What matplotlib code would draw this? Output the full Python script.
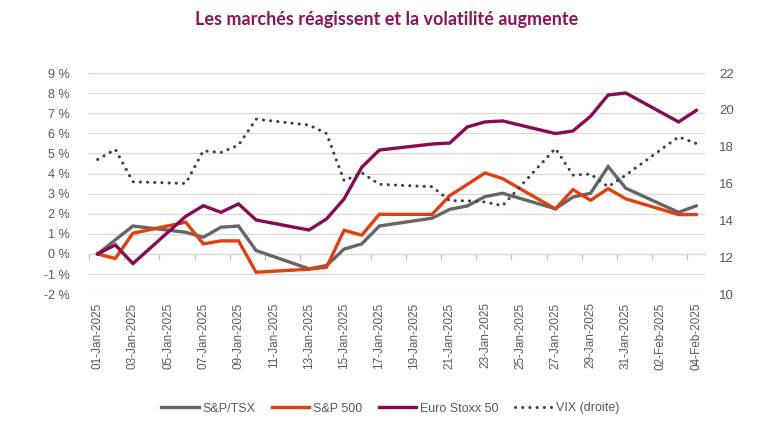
import numpy as np
import pandas as pd
import matplotlib
matplotlib.use("Agg")
import matplotlib.pyplot as plt
from matplotlib.ticker import FixedLocator, FuncFormatter
from matplotlib.lines import Line2D

# jours de bourse (les jours fériés reprennent la valeur précédente)
dates = pd.to_datetime([
    "2025-01-01", "2025-01-02", "2025-01-03", "2025-01-06", "2025-01-07",
    "2025-01-08", "2025-01-09", "2025-01-10", "2025-01-13", "2025-01-14",
    "2025-01-15", "2025-01-16", "2025-01-17", "2025-01-20", "2025-01-21",
    "2025-01-22", "2025-01-23", "2025-01-24", "2025-01-27", "2025-01-28",
    "2025-01-29", "2025-01-30", "2025-01-31", "2025-02-03", "2025-02-04",
])
tsx = [0.0, 0.70, 1.39, 1.08, 0.83, 1.33, 1.39, 0.17, -0.74, -0.58,
       0.24, 0.50, 1.39, 1.78, 2.22, 2.39, 2.85, 3.02, 2.25, 2.83,
       3.02, 4.35, 3.27, 2.07, 2.39]
spx = [0.0, -0.23, 1.03, 1.58, 0.50, 0.65, 0.65, -0.91, -0.76, -0.66,
       1.18, 0.93, 1.97, 1.97, 2.90, 3.46, 4.03, 3.75, 2.24, 3.20,
       2.67, 3.25, 2.74, 1.96, 1.96]
stoxx = [0.0, 0.45, -0.48, 1.87, 2.40, 2.07, 2.49, 1.69, 1.19, 1.74,
         2.74, 4.31, 5.17, 5.47, 5.52, 6.32, 6.57, 6.62, 5.99, 6.12,
         6.85, 7.91, 8.01, 6.57, 7.14]
vix = [17.31, 17.86, 16.10, 16.01, 17.78, 17.69, 18.09, 19.50, 19.18, 18.72,
       16.15, 16.59, 15.96, 15.83, 15.07, 15.07, 15.00, 14.80, 17.91, 16.46,
       16.52, 15.83, 16.46, 18.54, 18.18]

start = pd.Timestamp("2025-01-01")
end = pd.Timestamp("2025-02-04")
day = np.array([(d - start).days for d in dates])
n_days = (end - start).days
label_days = np.arange(0, n_days + 1, 2)
tick_labels = [(start + pd.Timedelta(days=int(k))).strftime("%d-%b-%Y") for k in label_days]

c_tsx = "#666666"
c_spx = "#E0400E"
c_stoxx = "#870A56"
c_vix = "#3F3F3F"
c_text = "#595959"
c_grid = "#D9D9D9"
dots = (0, (0.05, 2.3))

plt.rcParams["font.family"] = ["Liberation Sans", "DejaVu Sans"]

fig = plt.figure(figsize=(7.73, 4.30), dpi=100)
ax = fig.add_axes([0.115, 0.316, 0.797, 0.514])
ax2 = ax.twinx()

ax.set_ylim(-2, 9)
ax.set_yticks(np.arange(-2, 10, 1))
ax.yaxis.set_major_formatter(FuncFormatter(lambda v, p: f"{v:.0f} %"))
ax.grid(axis="y", color=c_grid, linewidth=0.9)
ax.set_axisbelow(True)

ax2.set_ylim(10, 22)
ax2.set_yticks(np.arange(10, 23, 2))

ax.set_xlim(-0.5, n_days + 0.5)
ax.set_xticks(label_days)
ax.set_xticklabels(tick_labels, rotation=90, fontsize=8.5, color=c_text)
ax.tick_params(axis="x", length=0, pad=6)
ax.tick_params(axis="y", length=0, labelsize=9, labelcolor=c_text, pad=14)
ax2.tick_params(axis="y", length=0, labelsize=9.5, labelcolor=c_text, pad=10)

for a in (ax, ax2):
    for s in a.spines.values():
        s.set_visible(False)

# axe horizontal au niveau 0 % avec les traits de graduation
sec = ax.secondary_xaxis(2 / 11)
sec.spines["bottom"].set_color("#BFBFBF")
sec.xaxis.set_major_locator(FixedLocator(np.arange(-0.5, n_days + 0.6, 2)))
sec.tick_params(axis="x", length=4, color="#BFBFBF", labelbottom=False)

ax.plot(day, tsx, color=c_tsx, lw=2.4, solid_joinstyle="miter", zorder=3)
ax.plot(day, spx, color=c_spx, lw=2.4, solid_joinstyle="miter", zorder=3)
ax.plot(day, stoxx, color=c_stoxx, lw=2.4, solid_joinstyle="miter", zorder=3)
ax2.plot(day, vix, color=c_vix, lw=2.2, linestyle=dots, dash_capstyle="round")

fig.suptitle("Les marchés réagissent et la volatilité augmente", x=0.5, y=0.975,
             fontsize=13, fontweight="bold", color="#8A1558", family=["Lato", "DejaVu Sans"])

handles = [
    Line2D([], [], color=c_tsx, lw=2.4),
    Line2D([], [], color=c_spx, lw=2.4),
    Line2D([], [], color=c_stoxx, lw=2.4),
    Line2D([], [], color=c_vix, lw=2.2, linestyle=dots, dash_capstyle="round"),
]
fig.legend(handles, ["S&P/TSX", "S&P 500", "Euro Stoxx 50", "VIX (droite)"],
           loc="center", bbox_to_anchor=(0.505, 0.05), ncol=4, frameon=False,
           fontsize=9, labelcolor=c_text, handlelength=3.0, handletextpad=0.3,
           columnspacing=1.3)

fig.savefig("out.png", dpi=100)
